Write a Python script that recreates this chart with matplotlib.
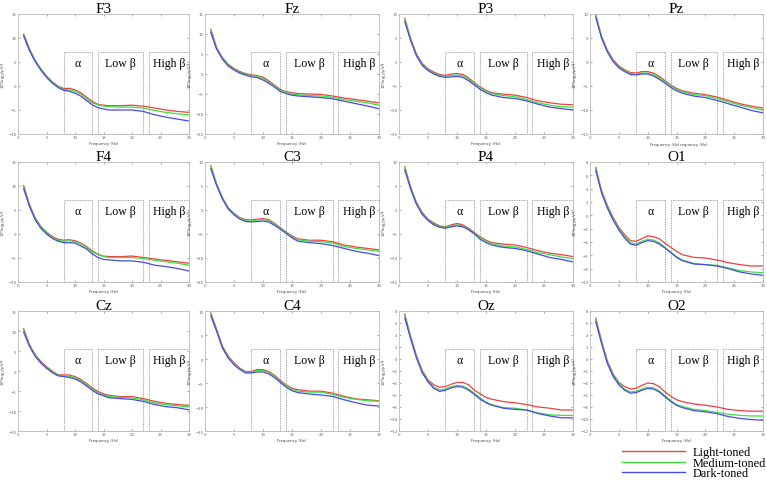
import matplotlib
matplotlib.use("Agg")
import matplotlib.pyplot as plt
import matplotlib.transforms as mtransforms
from matplotlib.patches import Rectangle
from matplotlib.lines import Line2D

# frequency points (Hz) at which the spectra were read
freqs = [1, 2, 3, 4, 5, 6, 7, 8, 9, 10, 11, 12, 13, 14, 15, 16, 18, 20, 22, 24, 26, 28, 30]

f3_light = [10.8, 7.8, 5.4, 3.6, 2.1, 0.9, 0.0, -0.5, -0.5, -0.8, -1.4, -2.3, -3.2, -3.8, -4.0, -4.1, -4.1, -4.0, -4.2, -4.6, -5.0, -5.3, -5.5]
f3_medium = [10.6, 7.6, 5.3, 3.5, 2.0, 0.8, -0.1, -0.7, -0.8, -1.1, -1.7, -2.6, -3.5, -3.9, -4.2, -4.3, -4.4, -4.4, -4.6, -5.1, -5.5, -5.8, -6.0]
f3_dark = [10.4, 7.4, 5.1, 3.3, 1.8, 0.6, -0.3, -0.9, -1.1, -1.5, -2.1, -3.0, -3.9, -4.5, -4.8, -5.0, -5.0, -5.0, -5.3, -6.0, -6.5, -6.9, -7.3]

fz_light = [11.2, 6.6, 4.1, 2.4, 1.4, 0.6, 0.1, -0.2, -0.4, -0.8, -1.7, -2.8, -3.9, -4.4, -4.7, -4.9, -5.0, -5.1, -5.5, -6.0, -6.4, -6.8, -7.2]
fz_medium = [10.8, 6.4, 3.9, 2.2, 1.2, 0.4, -0.1, -0.4, -0.6, -1.1, -2.0, -3.0, -4.1, -4.6, -5.0, -5.2, -5.4, -5.5, -5.8, -6.4, -6.8, -7.2, -7.8]
fz_dark = [10.4, 6.2, 3.7, 2.0, 1.0, 0.2, -0.3, -0.7, -0.9, -1.5, -2.3, -3.3, -4.4, -4.9, -5.3, -5.5, -5.7, -5.9, -6.2, -6.8, -7.4, -8.0, -8.7]

p3_light = [9.1, 4.9, 1.7, -0.3, -1.4, -2.1, -2.6, -2.8, -2.5, -2.4, -2.6, -3.3, -4.3, -5.2, -5.9, -6.4, -6.7, -6.9, -7.4, -8.1, -8.5, -8.8, -8.9]
p3_medium = [8.8, 4.7, 1.5, -0.5, -1.6, -2.3, -2.8, -3.0, -2.8, -2.7, -2.9, -3.6, -4.5, -5.4, -6.1, -6.6, -7.0, -7.2, -7.8, -8.5, -9.0, -9.3, -9.4]
p3_dark = [8.4, 4.5, 1.3, -0.7, -1.8, -2.5, -3.0, -3.2, -3.1, -3.0, -3.2, -3.9, -4.8, -5.7, -6.4, -6.9, -7.4, -7.6, -8.1, -8.8, -9.4, -9.7, -10.0]

pz_light = [9.8, 5.4, 2.5, 0.5, -0.8, -1.6, -2.2, -2.3, -2.0, -2.0, -2.3, -3.0, -3.9, -4.8, -5.5, -6.0, -6.5, -6.8, -7.3, -8.0, -8.7, -9.2, -9.6]
pz_medium = [9.6, 5.2, 2.3, 0.3, -1.0, -1.8, -2.4, -2.5, -2.3, -2.3, -2.6, -3.3, -4.1, -5.0, -5.7, -6.2, -6.8, -7.0, -7.6, -8.3, -9.0, -9.5, -10.0]
pz_dark = [9.3, 5.0, 2.1, 0.1, -1.2, -2.0, -2.6, -2.7, -2.5, -2.5, -2.9, -3.6, -4.4, -5.3, -6.0, -6.5, -7.1, -7.4, -8.0, -8.7, -9.4, -10.1, -10.6]

f4_light = [10.1, 6.2, 3.4, 1.6, 0.4, -0.5, -1.1, -1.3, -1.2, -1.4, -1.9, -2.6, -3.5, -4.2, -4.6, -4.7, -4.7, -4.6, -4.9, -5.2, -5.5, -5.8, -6.1]
f4_medium = [9.8, 6.0, 3.2, 1.4, 0.2, -0.7, -1.3, -1.5, -1.4, -1.6, -2.1, -2.8, -3.7, -4.3, -4.7, -4.9, -4.9, -4.9, -5.1, -5.5, -5.8, -6.1, -6.5]
f4_dark = [9.4, 5.8, 3.0, 1.2, 0.0, -0.9, -1.5, -1.8, -1.8, -1.9, -2.5, -3.1, -4.1, -4.9, -5.3, -5.4, -5.6, -5.6, -5.9, -6.5, -6.8, -7.2, -7.7]

c3_light = [9.2, 5.4, 2.6, 0.5, -0.7, -1.6, -2.0, -2.1, -1.9, -1.8, -2.0, -2.8, -3.7, -4.6, -5.4, -6.0, -6.3, -6.3, -6.6, -7.3, -7.7, -8.0, -8.3]
c3_medium = [9.3, 5.3, 2.5, 0.4, -0.8, -1.7, -2.2, -2.3, -2.1, -2.0, -2.2, -3.0, -3.8, -4.7, -5.6, -6.2, -6.5, -6.6, -6.9, -7.6, -8.0, -8.3, -8.6]
c3_dark = [8.6, 5.1, 2.3, 0.2, -1.0, -1.9, -2.4, -2.5, -2.4, -2.3, -2.5, -3.2, -4.0, -4.9, -5.8, -6.5, -6.8, -7.0, -7.4, -8.0, -8.6, -9.0, -9.5]

p4_light = [9.0, 4.8, 1.6, -0.5, -1.9, -2.7, -3.3, -3.5, -3.1, -2.8, -3.1, -3.8, -4.7, -5.6, -6.3, -6.8, -7.1, -7.3, -7.8, -8.5, -9.0, -9.3, -9.7]
p4_medium = [8.7, 4.6, 1.4, -0.7, -2.0, -2.9, -3.5, -3.6, -3.3, -3.1, -3.3, -4.0, -4.9, -5.8, -6.5, -7.0, -7.5, -7.7, -8.2, -8.9, -9.3, -9.8, -10.1]
p4_dark = [8.3, 4.4, 1.2, -0.9, -2.2, -3.1, -3.6, -3.8, -3.5, -3.3, -3.5, -4.1, -5.0, -6.1, -6.8, -7.3, -7.8, -8.0, -8.5, -9.2, -9.9, -10.3, -10.8]

o1_light = [7.2, 3.7, 1.5, -0.3, -1.8, -2.9, -3.8, -3.9, -3.5, -3.1, -3.2, -3.5, -4.2, -4.8, -5.4, -5.9, -6.3, -6.4, -6.7, -7.1, -7.4, -7.6, -7.6]
o1_medium = [7.0, 3.6, 1.3, -0.5, -2.0, -3.2, -4.1, -4.3, -3.9, -3.6, -3.7, -4.1, -4.8, -5.5, -6.2, -6.7, -7.2, -7.4, -7.5, -7.9, -8.3, -8.5, -8.6]
o1_dark = [6.7, 3.4, 1.1, -0.7, -2.2, -3.4, -4.3, -4.5, -4.1, -3.8, -3.9, -4.3, -4.9, -5.6, -6.3, -6.8, -7.3, -7.4, -7.6, -8.0, -8.5, -8.8, -9.0]

cz_light = [10.6, 6.6, 4.1, 2.4, 1.1, 0.0, -0.9, -1.0, -1.0, -1.4, -2.1, -3.1, -4.2, -5.1, -5.7, -6.1, -6.4, -6.4, -6.9, -7.6, -8.1, -8.4, -8.6]
cz_medium = [10.2, 6.4, 3.9, 2.2, 0.9, -0.2, -1.0, -1.2, -1.3, -1.7, -2.4, -3.4, -4.5, -5.4, -6.0, -6.4, -6.6, -6.7, -7.2, -8.0, -8.4, -8.7, -9.0]
cz_dark = [9.7, 6.2, 3.7, 2.0, 0.7, -0.4, -1.2, -1.4, -1.6, -2.0, -2.7, -3.7, -4.8, -5.7, -6.2, -6.7, -6.9, -7.1, -7.6, -8.4, -8.9, -9.2, -9.7]

c4_light = [9.6, 6.2, 2.7, 0.6, -0.8, -1.9, -2.6, -2.6, -2.2, -2.2, -2.6, -3.4, -4.5, -5.4, -6.1, -6.4, -6.7, -6.7, -7.1, -7.8, -8.3, -8.5, -8.7]
c4_medium = [9.4, 6.0, 2.5, 0.4, -1.0, -2.0, -2.7, -2.8, -2.4, -2.4, -2.8, -3.6, -4.7, -5.6, -6.3, -6.7, -6.9, -6.9, -7.4, -8.0, -8.4, -8.7, -8.8]
c4_dark = [9.0, 5.8, 2.3, 0.2, -1.2, -2.2, -2.9, -2.9, -2.7, -2.7, -3.1, -3.9, -4.9, -5.9, -6.6, -7.0, -7.3, -7.5, -7.8, -8.5, -9.1, -9.6, -9.8]

oz_light = [7.5, 3.8, 0.6, -1.9, -3.5, -4.3, -4.7, -4.6, -4.2, -3.9, -3.9, -4.3, -5.2, -5.8, -6.4, -6.7, -7.1, -7.3, -7.6, -8.0, -8.2, -8.5, -8.5]
oz_medium = [7.2, 3.6, 0.4, -2.1, -3.7, -4.7, -5.2, -5.0, -4.6, -4.4, -4.5, -5.0, -5.7, -6.5, -7.2, -7.6, -8.1, -8.2, -8.5, -9.0, -9.3, -9.4, -9.4]
oz_dark = [6.8, 3.4, 0.2, -2.3, -3.8, -4.9, -5.4, -5.2, -4.8, -4.6, -4.7, -5.2, -5.9, -6.7, -7.3, -7.7, -8.2, -8.4, -8.5, -9.1, -9.5, -9.8, -9.8]

o2_light = [6.8, 3.0, -0.3, -2.5, -3.9, -4.6, -5.0, -4.9, -4.4, -4.0, -4.1, -4.6, -5.5, -6.2, -6.8, -7.1, -7.5, -7.7, -8.0, -8.4, -8.6, -8.7, -8.7]
o2_medium = [6.5, 2.8, -0.5, -2.7, -4.1, -5.0, -5.5, -5.4, -5.0, -4.7, -4.8, -5.3, -6.1, -6.9, -7.6, -7.9, -8.4, -8.6, -8.9, -9.2, -9.4, -9.5, -9.5]
o2_dark = [6.2, 2.6, -0.7, -2.9, -4.3, -5.2, -5.7, -5.6, -5.2, -4.9, -5.0, -5.5, -6.3, -7.1, -7.7, -8.1, -8.6, -8.8, -9.1, -9.6, -9.9, -10.1, -10.2]

channels = ['F3', 'Fz', 'P3', 'Pz', 'F4', 'C3', 'P4', 'O1', 'Cz', 'C4', 'Oz', 'O2']
light = [f3_light, fz_light, p3_light, pz_light, f4_light, c3_light, p4_light, o1_light, cz_light, c4_light, oz_light, o2_light]
medium = [f3_medium, fz_medium, p3_medium, pz_medium, f4_medium, c3_medium, p4_medium, o1_medium, cz_medium, c4_medium, oz_medium, o2_medium]
dark = [f3_dark, fz_dark, p3_dark, pz_dark, f4_dark, c3_dark, p4_dark, o1_dark, cz_dark, c4_dark, oz_dark, o2_dark]
ylims = [(-10, 15), (-15, 15), (-15, 10), (-15, 10), (-10, 15), (-15, 10), (-15, 10), (-10, 8),
         (-15, 15), (-15, 10), (-12, 8), (-12, 8)]
ysteps = [5, 5, 5, 5, 5, 5, 5, 2, 5, 5, 2, 2]

bands = [(8, 13, 'α'), (14, 22, 'Low β'), (23, 30, 'High β')]
series_colors = ['#f04040', '#3fe03f', '#4848f0']
series_names = ['Light-toned', 'Medium-toned', 'Dark-toned']

W, H = 767, 481
fig = plt.figure(figsize=(W / 100, H / 100), dpi=100)

col_left = [18, 205, 399, 590]
col_width = [171, 174, 174, 173]
row_top = [15, 163, 312]
ax_h = 120

for i, name in enumerate(channels):
    r, c = divmod(i, 4)
    ax = fig.add_axes([col_left[c] / W, 1 - (row_top[r] + ax_h) / H, col_width[c] / W, ax_h / H])
    for vals, col in zip((light[i], medium[i], dark[i]), series_colors):
        ax.plot(freqs, vals, color=col, lw=0.9)
    lo, hi = ylims[i]
    ax.set_xlim(0, 30)
    ax.set_ylim(lo, hi)
    ax.set_xticks(range(0, 31, 5))
    ax.set_yticks(range(lo, hi + 1, ysteps[i]))
    ax.tick_params(labelsize=2.8, length=1.5, width=0.4, direction='in',
                   top=True, right=True, colors='#666666', pad=1.0)
    for sp in ax.spines.values():
        sp.set_color('#bbbbbb')
        sp.set_linewidth(0.6)
    ax.set_ylabel(r'10*log$_{10}$($\mu$V$^2$)', fontsize=2.8, color='#444444')
    ax.yaxis.set_label_coords(-0.05, 0.5)
    if name == 'Pz':
        ax.text(0.43, -0.07, 'Frequency (Hz)', transform=ax.transAxes, fontsize=2.8,
                ha='center', va='top', color='#444444')
        ax.text(0.6, -0.07, 'requency (Hz)', transform=ax.transAxes, fontsize=2.8,
                ha='center', va='top', color='#444444')
    else:
        ax.set_xlabel('Frequency (Hz)', fontsize=2.8, labelpad=1, color='#444444')
    ax.set_title(name, fontsize=11, family='Liberation Serif', pad=1.5)

    trans = mtransforms.blended_transform_factory(ax.transData, ax.transAxes)
    for x0, x1, lab in bands:
        ax.add_patch(Rectangle((x0, 0), x1 - x0, 0.68, transform=trans, fill=False,
                               ls=(0, (1, 1)), lw=0.6, ec='#888888', clip_on=False))
        ax.text((x0 + x1) / 2, 0.595, lab, transform=trans, ha='center', va='center',
                fontsize=8.5, family='Liberation Serif')

handles = [Line2D([], [], color=col, lw=1.0) for col in series_colors]
fig.legend(handles, series_names, loc='upper left', bbox_to_anchor=(615 / W, 1 - 440 / H),
           frameon=False, prop={'family': 'Liberation Serif', 'size': 8.8},
           handlelength=5.1, labelspacing=-0.12, handletextpad=0.65, borderpad=0.1)

fig.savefig('out.png', dpi=100)
